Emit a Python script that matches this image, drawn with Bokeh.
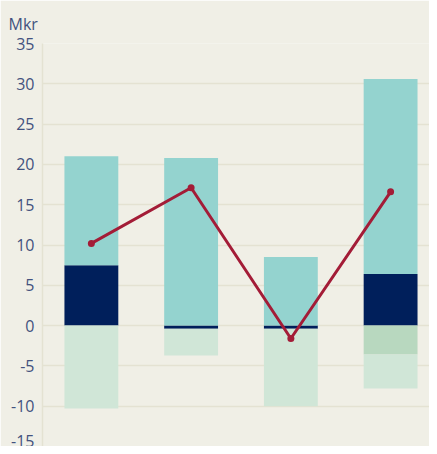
from bokeh.plotting import figure
from bokeh.models import Range1d, FixedTicker, ColumnDataSource
from bokeh.embed import file_html
from bokeh.resources import INLINE

# ---- data ----
periods = ["P1", "P2", "P3", "P4"]
navy_vals = [7.5, -0.4, -0.4, 6.4]
teal_vals = [13.5, 20.8, 8.5, 24.2]
dark_green_vals = [0.0, 0.0, 0.0, -3.6]
light_green_vals = [-10.3, -3.3, -9.6, -4.2]
line_vals = [10.2, 17.1, -1.6, 16.6]
y_ticks = [-15, -10, -5, 0, 5, 10, 15, 20, 25, 30, 35]

BG = "#f0efe6"
GRID = "#e4e2d2"
TXT = "#43527e"
NAVY = "#001f5b"
TEAL = "#94d3cf"
LGREEN = "#d0e6d7"
DGREEN = "#b8d8bf"
RED = "#a31c37"

xs = list(range(len(periods)))

p = figure(width=429, height=446, output_backend="svg", toolbar_location=None,
           x_range=Range1d(-0.49, 3.39), y_range=Range1d(-15, 35),
           min_border_left=42, min_border_right=0, min_border_top=43, min_border_bottom=0,
           background_fill_color=BG, border_fill_color=BG, outline_line_color=None)

# stacking
pos_base = [0.0] * 4
neg_base = [0.0] * 4

def stack(vals, color):
    bottoms, tops = [], []
    for i, v in enumerate(vals):
        if v >= 0:
            b = pos_base[i]; t = b + v; pos_base[i] = t
        else:
            b = neg_base[i]; t = b + v; neg_base[i] = t
        bottoms.append(b); tops.append(t)
    src = ColumnDataSource(dict(x=xs, bottom=bottoms, top=tops))
    p.vbar(x="x", bottom="bottom", top="top", width=0.54, source=src,
           fill_color=color, line_color=None)

stack(navy_vals, NAVY)
stack(teal_vals, TEAL)
stack(dark_green_vals, DGREEN)
stack(light_green_vals, LGREEN)

lsrc = ColumnDataSource(dict(x=xs, y=line_vals))
p.line("x", "y", source=lsrc, line_color=RED, line_width=3)
p.scatter("x", "y", source=lsrc, size=7, fill_color=RED, line_color=None)

p.xaxis.visible = False
p.xgrid.visible = False
p.ygrid.grid_line_color = GRID
p.ygrid.grid_line_width = 1.5
p.yaxis.ticker = FixedTicker(ticks=y_ticks)
p.yaxis.major_label_overrides = {t: str(t) for t in y_ticks}
p.yaxis.axis_line_color = GRID
p.yaxis.axis_line_width = 1.5
p.yaxis.major_tick_line_color = None
p.yaxis.minor_tick_line_color = None
p.yaxis.major_tick_out = 0
p.yaxis.major_label_standoff = 8
p.yaxis.major_label_text_color = TXT
p.yaxis.major_label_text_font = "Open Sans"
p.yaxis.major_label_text_font_size = "16px"

p.title.text = "Mkr"
p.title.align = "left"
p.title.offset = -34
p.title.standoff = 17
p.title.text_color = TXT
p.title.text_font = "Open Sans"
p.title.text_font_style = "normal"
p.title.text_font_size = "16px"

open("out.html", "w").write(file_html(p, INLINE))
